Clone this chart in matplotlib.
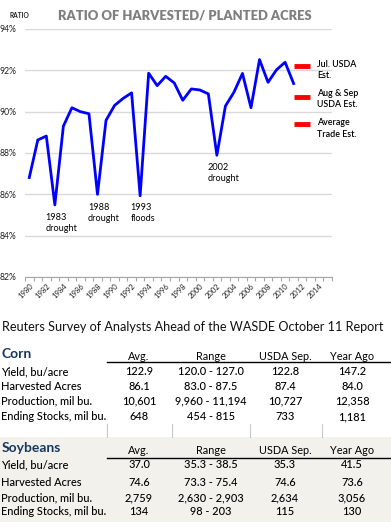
"""
Ratio of harvested / planted acres + Reuters survey table
"""

import matplotlib.pyplot as plt
import numpy as np

plt.rcParams['font.family'] = ['Lato', 'DejaVu Sans']

years = list(range(1980, 2012))
ratio = [86.81, 88.63, 88.82, 85.49, 89.30, 90.19, 90.00, 89.90, 86.00, 89.58,
         90.30, 90.64, 90.91, 85.93, 91.86, 91.26, 91.71, 91.39, 90.55, 91.10,
         91.05, 90.86, 87.89, 90.27, 90.94, 91.85, 90.19, 92.52, 91.42, 92.03,
         92.39, 91.36]

est_year = 2012
est_values = [92.19, 90.70, 89.40]
est_labels = ['Jul. USDA\nEst.', 'Aug & Sep\nUSDA Est.', 'Average\nTrade Est.']

events = [(1983, '1983\ndrought'), (1988, '1988\ndrought'),
          (1993, '1993\nfloods'), (2002, '2002\ndrought')]

col_heads = ['Avg.', 'Range', 'USDA Sep.', 'Year Ago']
row_names = ['Yield, bu/acre', 'Harvested Acres', 'Production, mil bu.',
             'Ending Stocks, mil bu.']
corn = [['122.9', '120.0 - 127.0', '122.8', '147.2'],
        ['86.1', '83.0 - 87.5', '87.4', '84.0'],
        ['10,601', '9,960 - 11,194', '10,727', '12,358'],
        ['648', '454 - 815', '733', '1,181']]
soy = [['37.0', '35.3 - 38.5', '35.3', '41.5'],
       ['74.6', '73.3 - 75.4', '74.6', '73.6'],
       ['2,759', '2,630 - 2,903', '2,634', '3,056'],
       ['134', '98 - 203', '115', '130']]

W, H = 391, 527
fig = plt.figure(figsize=(W / 100, H / 100), dpi=100)

# background / table layer in pixel coords
bg = fig.add_axes([0, 0, 1, 1])
bg.set_xlim(0, W)
bg.set_ylim(H, 0)
bg.axis('off')

ax = fig.add_axes([25 / W, 1 - 277 / H, 307 / W, 248 / H])
ax.plot(years, ratio, color='#0000ff', lw=2)
ax.scatter([est_year] * 3, est_values, marker='_', s=130, linewidths=3.5,
           color='#ff0000', zorder=3)
for v, lab in zip([92.50, 91.12, 89.69], est_labels):
    ax.text(2013.75, v, lab, fontsize=6.4, fontweight='semibold',
            va='top', ha='left', linespacing=1.35)
for (yr, lab), ty in zip(events, [85.10, 85.58, 85.58, 87.54]):
    ax.text(yr - 1.1, ty, lab, fontsize=6.6, va='top', ha='left',
            linespacing=1.35)

ax.set_xlim(1979.5, 2015.5)
ax.set_ylim(82, 94)
ax.set_yticks(np.arange(82, 95, 2))
ax.set_yticklabels(['%d%%' % v for v in range(82, 95, 2)])
ax.grid(axis='y', color='#d9d9d9', lw=1)
ax.set_axisbelow(True)
ax.tick_params(axis='y', length=0, labelsize=6.2, pad=6, labelcolor='#222222')
ax.set_xticks(range(1980, 2016, 2))
ax.set_xticklabels([str(y) for y in range(1980, 2016, 2)], rotation=45,
                   ha='right', rotation_mode='anchor')
ax.set_xticks(np.arange(1979.5, 2016, 1), minor=True)
ax.tick_params(axis='x', which='major', length=0, labelsize=5.5,
               labelcolor='#222222', pad=4)
ax.tick_params(axis='x', which='minor', length=3, color='#a6a6a6', width=0.8)
for s in ['left', 'right', 'top']:
    ax.spines[s].set_visible(False)
ax.spines['bottom'].set_color('#a6a6a6')
ax.patch.set_alpha(0)

fig.text(185 / W, 1 - 15 / H, 'RATIO OF HARVESTED/ PLANTED ACRES',
         ha='center', va='center', fontsize=9.4, fontweight='heavy',
         color='#7f7f7f')
fig.text(10 / W, 1 - 16 / H, 'RATIO', ha='left', va='center', fontsize=4.8,
         fontweight='bold', color='#222222')

# table
bg.text(2, 327, 'Reuters Survey of Analysts Ahead of the WASDE October 11 Report',
        fontsize=9.1, va='center', ha='left', color='#111111')
bg.add_patch(plt.Rectangle((0, 437), W, 85, color='#f3f1eb', lw=0))
for x in [107, 172, 250, 322]:
    bg.plot([x, x], [424, 437], color='#c8c8c8', lw=0.8)

col_x = [139, 211, 285, 352]
navy = '#17375e'


def block(name, y_head, y_rule, row_y, data):
    bg.text(2, y_head - 2, name, fontsize=10, fontweight='bold', color=navy,
            ha='left', va='center')
    for cx, h in zip(col_x, col_heads):
        bg.text(cx, y_head, h, fontsize=7.8, ha='center', va='center')
    bg.plot([107, W], [y_rule, y_rule], color='black', lw=1)
    for ry, rn, vals in zip(row_y, row_names, data):
        bg.text(1, ry, rn, fontsize=7.9, ha='left', va='center',
                fontweight='medium')
        for cx, v in zip(col_x, vals):
            bg.text(cx, ry, v, fontsize=7.9, ha='center', va='center',
                    fontweight='medium')


block('Corn', 356, 362, [371.5, 386, 401, 416.5], corn)
block('Soybeans', 450, 458, [465, 482.5, 497.5, 511.5], soy)

fig.savefig('out.png', dpi=100)
